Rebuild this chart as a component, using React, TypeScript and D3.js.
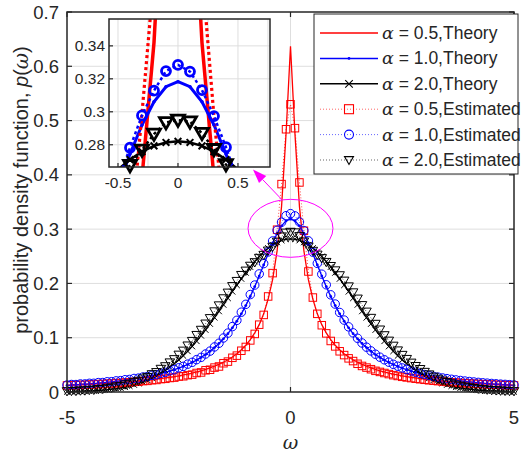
import * as d3 from 'd3';

// omega grid, step 0.1
const omega = [
  -5, -4.9, -4.8, -4.7, -4.6, -4.5, -4.4, -4.3, -4.2, -4.1,
  -4, -3.9, -3.8, -3.7, -3.6, -3.5, -3.4, -3.3, -3.2, -3.1,
  -3, -2.9, -2.8, -2.7, -2.6, -2.5, -2.4, -2.3, -2.2, -2.1,
  -2, -1.9, -1.8, -1.7, -1.6, -1.5, -1.4, -1.3, -1.2, -1.1,
  -1, -0.9, -0.8, -0.7, -0.6, -0.5, -0.4, -0.3, -0.2, -0.1,
  0,
  0.1, 0.2, 0.3, 0.4, 0.5, 0.6, 0.7, 0.8, 0.9, 1,
  1.1, 1.2, 1.3, 1.4, 1.5, 1.6, 1.7, 1.8, 1.9, 2,
  2.1, 2.2, 2.3, 2.4, 2.5, 2.6, 2.7, 2.8, 2.9, 3,
  3.1, 3.2, 3.3, 3.4, 3.5, 3.6, 3.7, 3.8, 3.9, 4,
  4.1, 4.2, 4.3, 4.4, 4.5, 4.6, 4.7, 4.8, 4.9, 5,
];

const theory05 = [
  0.0124, 0.0127, 0.0131, 0.0134, 0.0138, 0.0142, 0.0146, 0.0150, 0.0155, 0.0160,
  0.0165, 0.0170, 0.0176, 0.0182, 0.0189, 0.0196, 0.0203, 0.0211, 0.0220, 0.0229,
  0.0238, 0.0249, 0.0260, 0.0272, 0.0285, 0.0299, 0.0314, 0.0331, 0.0349, 0.0369,
  0.0391, 0.0416, 0.0444, 0.0475, 0.0509, 0.0549, 0.0594, 0.0646, 0.0706, 0.0777,
  0.0861, 0.0963, 0.109, 0.124, 0.144, 0.171, 0.207, 0.260, 0.342, 0.475,
  0.637,
  0.475, 0.342, 0.260, 0.207, 0.171, 0.144, 0.124, 0.109, 0.0963, 0.0861,
  0.0777, 0.0706, 0.0646, 0.0594, 0.0549, 0.0509, 0.0475, 0.0444, 0.0416, 0.0391,
  0.0369, 0.0349, 0.0331, 0.0314, 0.0299, 0.0285, 0.0272, 0.0260, 0.0249, 0.0238,
  0.0229, 0.0220, 0.0211, 0.0203, 0.0196, 0.0189, 0.0182, 0.0176, 0.0170, 0.0165,
  0.0160, 0.0155, 0.0150, 0.0146, 0.0142, 0.0138, 0.0134, 0.0131, 0.0127, 0.0124,
];

const theory10 = [
  0.0122, 0.0127, 0.0132, 0.0138, 0.0144, 0.0150, 0.0156, 0.0163, 0.0171, 0.0179,
  0.0187, 0.0196, 0.0206, 0.0217, 0.0228, 0.0240, 0.0253, 0.0268, 0.0283, 0.0300,
  0.0318, 0.0338, 0.0360, 0.0384, 0.0410, 0.0439, 0.0471, 0.0506, 0.0545, 0.0588,
  0.0637, 0.0690, 0.0751, 0.0818, 0.0894, 0.0979, 0.1075, 0.1183, 0.1305, 0.1440,
  0.1592, 0.1759, 0.1941, 0.2136, 0.2341, 0.2546, 0.2744, 0.2920, 0.3061, 0.3152,
  0.3183,
  0.3152, 0.3061, 0.2920, 0.2744, 0.2546, 0.2341, 0.2136, 0.1941, 0.1759, 0.1592,
  0.1440, 0.1305, 0.1183, 0.1075, 0.0979, 0.0894, 0.0818, 0.0751, 0.0690, 0.0637,
  0.0588, 0.0545, 0.0506, 0.0471, 0.0439, 0.0410, 0.0384, 0.0360, 0.0338, 0.0318,
  0.0300, 0.0283, 0.0268, 0.0253, 0.0240, 0.0228, 0.0217, 0.0206, 0.0196, 0.0187,
  0.0179, 0.0171, 0.0163, 0.0156, 0.0150, 0.0144, 0.0138, 0.0132, 0.0127, 0.0122,
];

const theory20 = [
  0.0005, 0.0007, 0.0009, 0.0011, 0.0014, 0.0018, 0.0022, 0.0028, 0.0034, 0.0042,
  0.0052, 0.0063, 0.0076, 0.0092, 0.0110, 0.0132, 0.0157, 0.0185, 0.0218, 0.0255,
  0.0297, 0.0345, 0.0397, 0.0456, 0.0521, 0.0591, 0.0668, 0.0752, 0.0841, 0.0937,
  0.1038, 0.1144, 0.1255, 0.1370, 0.1487, 0.1607, 0.1728, 0.1849, 0.1968, 0.2085,
  0.2197, 0.2304, 0.2404, 0.2496, 0.2578, 0.2650, 0.2710, 0.2758, 0.2793, 0.2814,
  0.2821,
  0.2814, 0.2793, 0.2758, 0.2710, 0.2650, 0.2578, 0.2496, 0.2404, 0.2304, 0.2197,
  0.2085, 0.1968, 0.1849, 0.1728, 0.1607, 0.1487, 0.1370, 0.1255, 0.1144, 0.1038,
  0.0937, 0.0841, 0.0752, 0.0668, 0.0591, 0.0521, 0.0456, 0.0397, 0.0345, 0.0297,
  0.0255, 0.0218, 0.0185, 0.0157, 0.0132, 0.0110, 0.0092, 0.0076, 0.0063, 0.0052,
  0.0042, 0.0034, 0.0028, 0.0022, 0.0018, 0.0014, 0.0011, 0.0009, 0.0007, 0.0005,
];

const est05 = [
  0.0121, 0.0126, 0.0127, 0.0132, 0.0132, 0.0139, 0.0139, 0.0146, 0.0147, 0.0155,
  0.0156, 0.0165, 0.0166, 0.0176, 0.0178, 0.0188, 0.0190, 0.0202, 0.0205, 0.0218,
  0.0222, 0.0238, 0.0243, 0.0258, 0.0265, 0.0285, 0.029, 0.031, 0.032, 0.035,
  0.036, 0.040, 0.041, 0.045, 0.047, 0.053, 0.056, 0.063, 0.067, 0.076,
  0.083, 0.095, 0.107, 0.124, 0.142, 0.176, 0.219, 0.299, 0.383, 0.484,
  0.530,
  0.486, 0.386, 0.297, 0.222, 0.174, 0.144, 0.123, 0.108, 0.094, 0.084,
  0.075, 0.068, 0.062, 0.057, 0.052, 0.048, 0.045, 0.042, 0.039, 0.037,
  0.035, 0.033, 0.031, 0.0295, 0.028, 0.0268, 0.0256, 0.0245, 0.0235, 0.0225,
  0.0216, 0.0208, 0.0200, 0.0193, 0.0186, 0.0180, 0.0174, 0.0168, 0.0163, 0.0158,
  0.0153, 0.0149, 0.0145, 0.0141, 0.0137, 0.0134, 0.0131, 0.0128, 0.0125, 0.0122,
];

const est10 = [
  0.0128, 0.0138, 0.0137, 0.0148, 0.0148, 0.0160, 0.0160, 0.0173, 0.0174, 0.0188,
  0.0190, 0.0205, 0.0209, 0.0226, 0.0231, 0.0249, 0.0256, 0.0276, 0.0285, 0.0307,
  0.0319, 0.0345, 0.0361, 0.0391, 0.0411, 0.0446, 0.0472, 0.0513, 0.0546, 0.0596,
  0.0638, 0.0700, 0.0753, 0.0830, 0.0898, 0.0995, 0.1085, 0.1205, 0.1320, 0.1470,
  0.1615, 0.1795, 0.1970, 0.2175, 0.2365, 0.2580, 0.2782, 0.2978, 0.3128, 0.3247,
  0.3285,
  0.3244, 0.3132, 0.2974, 0.2785, 0.2575, 0.2370, 0.2170, 0.1975, 0.1790, 0.1620,
  0.1465, 0.1325, 0.1200, 0.1090, 0.0990, 0.0903, 0.0826, 0.0757, 0.0696, 0.0641,
  0.0593, 0.0549, 0.0510, 0.0475, 0.0443, 0.0414, 0.0388, 0.0364, 0.0342, 0.0322,
  0.0304, 0.0288, 0.0273, 0.0259, 0.0246, 0.0234, 0.0223, 0.0212, 0.0202, 0.0193,
  0.0185, 0.0177, 0.0170, 0.0163, 0.0157, 0.0151, 0.0145, 0.0140, 0.0135, 0.0130,
];

const est20 = [
  0.0015, 0.0020, 0.0020, 0.0028, 0.0029, 0.0040, 0.0041, 0.0055, 0.0058, 0.0076,
  0.0081, 0.0103, 0.0112, 0.0139, 0.0153, 0.0186, 0.0207, 0.0248, 0.0277, 0.0327,
  0.0366, 0.0426, 0.0474, 0.0544, 0.0604, 0.0687, 0.0761, 0.0856, 0.0940, 0.1050,
  0.1145, 0.1260, 0.1360, 0.1485, 0.1595, 0.1725, 0.1830, 0.1950, 0.2045, 0.2155,
  0.2235, 0.2325, 0.2390, 0.2470, 0.2525, 0.2605, 0.2675, 0.2768, 0.2865, 0.2935,
  0.2950,
  0.2940, 0.2870, 0.2772, 0.2680, 0.2600, 0.2530, 0.2465, 0.2395, 0.2320, 0.2240,
  0.2150, 0.2050, 0.1945, 0.1835, 0.1720, 0.1600, 0.1480, 0.1365, 0.1255, 0.1150,
  0.1045, 0.0945, 0.0852, 0.0765, 0.0683, 0.0608, 0.0540, 0.0478, 0.0422, 0.0370,
  0.0323, 0.0281, 0.0244, 0.0211, 0.0182, 0.0157, 0.0135, 0.0116, 0.0099, 0.0085,
  0.0072, 0.0061, 0.0052, 0.0044, 0.0037, 0.0031, 0.0026, 0.0022, 0.0019, 0.0016,
];

const xTicks = [-5, 0, 5];
const yTicks = [0, 0.1, 0.2, 0.3, 0.4, 0.5, 0.6, 0.7];
const insetXTicks = [-0.5, 0, 0.5];
const insetXGrid = [-0.5, -0.25, 0, 0.25, 0.5, 0.75];
const insetYTicks = [0.28, 0.3, 0.32, 0.34];

const W = 522;
const H = 456;
const SANS = '"Liberation Sans", Arial, Helvetica, sans-serif';
const SERIF = '"DejaVu Serif", "Liberation Serif", serif';
const AXIS = '#262626';
const GRID = '#dedede';

type Kind = 'none' | 'dot' | 'x' | 'square' | 'circle' | 'tri';

const series = [
  { name: '0.5,Theory', values: theory05, color: '#ff0000', dotted: false, marker: 'none' as Kind, inW: 3.5 },
  { name: '1.0,Theory', values: theory10, color: '#0000ff', dotted: false, marker: 'dot' as Kind, inW: 3 },
  { name: '2.0,Theory', values: theory20, color: '#000000', dotted: false, marker: 'x' as Kind, inW: 2.5 },
  { name: '0.5,Estimated', values: est05, color: '#ff0000', dotted: true, marker: 'square' as Kind, inW: 3.2 },
  { name: '1.0,Estimated', values: est10, color: '#0000ff', dotted: true, marker: 'circle' as Kind, inW: 2.5 },
  { name: '2.0,Estimated', values: est20, color: '#000000', dotted: true, marker: 'tri' as Kind, inW: 2.5 },
];

function Marker({ kind, cx, cy, color, s, sw }: { kind: Kind; cx: number; cy: number; color: string; s: number; sw: number }) {
  if (kind === 'none') return null;
  if (kind === 'dot') return <circle cx={cx} cy={cy} r={s * 0.35} fill={color} />;
  if (kind === 'x') {
    const h = s * 0.42;
    return (
      <path d={`M${cx - h},${cy - h}L${cx + h},${cy + h}M${cx - h},${cy + h}L${cx + h},${cy - h}`} stroke={color} strokeWidth={sw} fill="none" />
    );
  }
  if (kind === 'square') {
    const h = s / 2;
    return <rect x={cx - h} y={cy - h} width={s} height={s} stroke={color} strokeWidth={sw} fill="none" />;
  }
  if (kind === 'circle') return <circle cx={cx} cy={cy} r={s / 2} stroke={color} strokeWidth={sw} fill="none" />;
  const h = s / 2;
  return (
    <path d={`M${cx - h},${cy - h * 0.75}L${cx + h},${cy - h * 0.75}L${cx},${cy + h}Z`} stroke={color} strokeWidth={sw} fill="none" strokeLinejoin="miter" />
  );
}

export default function App() {
  const x = d3.scaleLinear().domain([-5, 5]).range([67, 514]);
  const y = d3.scaleLinear().domain([0, 0.7]).range([392, 12]);
  const ix = d3.scaleLinear().domain([-0.575, 0.767]).range([109, 270]);
  const iy = d3.scaleLinear().domain([0.2665, 0.3563]).range([167, 19]);

  const mainLine = d3.line<number>().x((_, i) => x(omega[i])).y((d) => y(d));
  const insetLine = d3.line<number>().x((_, i) => ix(omega[i])).y((d) => iy(d));

  const [x0, x1] = x.range();
  const [y0, y1] = y.range();
  const [ix0, ix1] = ix.range();
  const [iy0, iy1] = iy.range();

  const mainMarkerSize: Record<Kind, number> = { none: 0, dot: 4, x: 7, square: 7.5, circle: 8.5, tri: 9.5 };
  const insetMarkerSize: Record<Kind, number> = { none: 0, dot: 5, x: 8, square: 10, circle: 9, tri: 13 };

  // zoom annotation (data units)
  const ell = { cx: 0, cy: 0.3015, rx: 0.95, ry: 0.0534 };
  const tail: [number, number] = [x(-0.2), y(0.355)];
  const tip: [number, number] = [x(-0.84), y(0.41)];
  const ang = Math.atan2(tip[1] - tail[1], tip[0] - tail[0]);
  const hl = 14;
  const hw = 5;
  const base: [number, number] = [tip[0] - hl * Math.cos(ang), tip[1] - hl * Math.sin(ang)];
  const head = [
    tip,
    [base[0] + hw * Math.sin(ang), base[1] - hw * Math.cos(ang)],
    [base[0] - hw * Math.sin(ang), base[1] + hw * Math.cos(ang)],
  ];

  const legendRows = series.map((s, i) => ({ ...s, cy: 33 + i * 25.4 }));

  return (
    <svg width={W} height={H} style={{ position: 'absolute', left: 0, top: 0, background: '#fff' }} fontFamily={SANS}>
      <defs>
        <clipPath id="mainClip">
          <rect x={x0} y={y1} width={x1 - x0} height={y0 - y1} />
        </clipPath>
        <clipPath id="insetClip">
          <rect x={ix0} y={iy1} width={ix1 - ix0} height={iy0 - iy1} />
        </clipPath>
      </defs>

      {/* main grid */}
      {yTicks.slice(1, -1).map((t) => (
        <line key={'gy' + t} x1={x0} x2={x1} y1={y(t)} y2={y(t)} stroke={GRID} strokeWidth={1} />
      ))}
      <line x1={x(0)} x2={x(0)} y1={y0} y2={y1} stroke={GRID} strokeWidth={1} />

      {/* main series */}
      <g clipPath="url(#mainClip)">
        {series.map((s) => (
          <path
            key={'ml' + s.name}
            d={mainLine(s.values) || ''}
            fill="none"
            stroke={s.color}
            strokeWidth={s.dotted ? 1 : 1.3}
            strokeDasharray={s.dotted ? '1,2' : undefined}
            opacity={s.dotted ? 0.7 : 1}
          />
        ))}
      </g>
      {series.map((s) => (
        <g key={'mm' + s.name}>
          {s.values.map((v, i) => (
            <Marker key={i} kind={s.marker} cx={x(omega[i])} cy={y(v)} color={s.color} s={mainMarkerSize[s.marker]} sw={1} />
          ))}
        </g>
      ))}

      {/* main axes box and ticks */}
      <rect x={x0} y={y1} width={x1 - x0} height={y0 - y1} fill="none" stroke={AXIS} strokeWidth={1.5} />
      {yTicks.map((t) => (
        <g key={'yt' + t}>
          <line x1={x0} x2={x0 + 5} y1={y(t)} y2={y(t)} stroke={AXIS} strokeWidth={1.2} />
          <line x1={x1} x2={x1 - 5} y1={y(t)} y2={y(t)} stroke={AXIS} strokeWidth={1.2} />
          <text x={x0 - 8} y={y(t)} textAnchor="end" dominantBaseline="central" fontSize={18.5} fill={AXIS}>
            {String(t)}
          </text>
        </g>
      ))}
      {xTicks.map((t) => (
        <g key={'xt' + t}>
          <line x1={x(t)} x2={x(t)} y1={y0} y2={y0 - 5} stroke={AXIS} strokeWidth={1.2} />
          <line x1={x(t)} x2={x(t)} y1={y1} y2={y1 + 5} stroke={AXIS} strokeWidth={1.2} />
          <text x={x(t)} y={417} textAnchor="middle" dominantBaseline="central" fontSize={18.5} fill={AXIS}>
            {String(t)}
          </text>
        </g>
      ))}
      <text x={x(0)} y={449} textAnchor="middle" fontSize={19} fontFamily={SERIF} fontStyle="italic" fill={AXIS}>
        ω
      </text>
      <text
        transform={`translate(21,${(y0 + y1) / 2 - 12}) rotate(-90)`}
        textAnchor="middle"
        dominantBaseline="central"
        fontSize={20}
        fill={AXIS}
      >
        probability density function, <tspan fontStyle="italic">p</tspan>(<tspan fontStyle="italic" fontFamily={SERIF}>ω</tspan>)
      </text>

      {/* zoom annotation */}
      <ellipse cx={x(ell.cx)} cy={y(ell.cy)} rx={x(ell.rx) - x(0)} ry={y(0) - y(ell.ry)} fill="none" stroke="#ff00ff" strokeWidth={1} />
      <line x1={tail[0]} y1={tail[1]} x2={base[0]} y2={base[1]} stroke="#ff00ff" strokeWidth={1} />
      <polygon points={head.map((p) => p.join(',')).join(' ')} fill="#ff00ff" />

      {/* inset axes */}
      <rect x={ix0} y={iy1} width={ix1 - ix0} height={iy0 - iy1} fill="#fff" />
      {insetYTicks.map((t) => (
        <line key={'igy' + t} x1={ix0} x2={ix1} y1={iy(t)} y2={iy(t)} stroke={GRID} strokeWidth={1} />
      ))}
      {insetXGrid.map((t) => (
        <line key={'igx' + t} x1={ix(t)} x2={ix(t)} y1={iy0} y2={iy1} stroke={GRID} strokeWidth={1} />
      ))}
      <g clipPath="url(#insetClip)">
        {series.map((s) => (
          <path
            key={'il' + s.name}
            d={insetLine(s.values) || ''}
            fill="none"
            stroke={s.color}
            strokeWidth={s.inW}
            strokeDasharray={s.dotted ? '3,3' : undefined}
          />
        ))}
      </g>
      {series
        .filter((s) => s.marker !== 'square')
        .map((s) => (
          <g key={'im' + s.name}>
            {s.values.map((v, i) => {
              const w = omega[i];
              if (w < ix.domain()[0] || w > ix.domain()[1] || v < iy.domain()[0] || v > iy.domain()[1]) return null;
              return (
                <Marker
                  key={i}
                  kind={s.marker}
                  cx={ix(w)}
                  cy={iy(v)}
                  color={s.color}
                  s={insetMarkerSize[s.marker]}
                  sw={s.marker === 'x' ? 2 : 2.8}
                />
              );
            })}
          </g>
        ))}
      <rect x={ix0} y={iy1} width={ix1 - ix0} height={iy0 - iy1} fill="none" stroke={AXIS} strokeWidth={1.5} />
      {insetYTicks.map((t) => (
        <g key={'iyt' + t}>
          <line x1={ix0} x2={ix0 + 4} y1={iy(t)} y2={iy(t)} stroke={AXIS} strokeWidth={1.2} />
          <text x={ix0 - 4} y={iy(t)} textAnchor="end" dominantBaseline="central" fontSize={15.5} fill={AXIS}>
            {String(t)}
          </text>
        </g>
      ))}
      {insetXTicks.map((t) => (
        <g key={'ixt' + t}>
          <line x1={ix(t)} x2={ix(t)} y1={iy0} y2={iy0 - 4} stroke={AXIS} strokeWidth={1.2} />
          <text x={ix(t)} y={iy0 + 15} textAnchor="middle" dominantBaseline="central" fontSize={15.5} fill={AXIS}>
            {String(t)}
          </text>
        </g>
      ))}

      {/* legend */}
      <rect x={314} y={14} width={204} height={160} fill="#fff" stroke={AXIS} strokeWidth={1} />
      {legendRows.map((s) => (
        <g key={'lg' + s.name}>
          <line
            x1={320}
            x2={378}
            y1={s.cy}
            y2={s.cy}
            stroke={s.color}
            strokeWidth={s.dotted ? 1 : 1.5}
            strokeDasharray={s.dotted ? '1,2' : undefined}
            opacity={s.dotted ? 0.6 : 1}
          />
          <Marker kind={s.marker} cx={349} cy={s.cy} color={s.color} s={s.marker === 'dot' ? 4 : 9} sw={1.1} />
          <text x={382} y={s.cy} dominantBaseline="central" fontSize={17.5} fill={AXIS}>
            <tspan fontFamily={SERIF} fontStyle="italic">α</tspan> = {s.name}
          </text>
        </g>
      ))}
    </svg>
  );
}
